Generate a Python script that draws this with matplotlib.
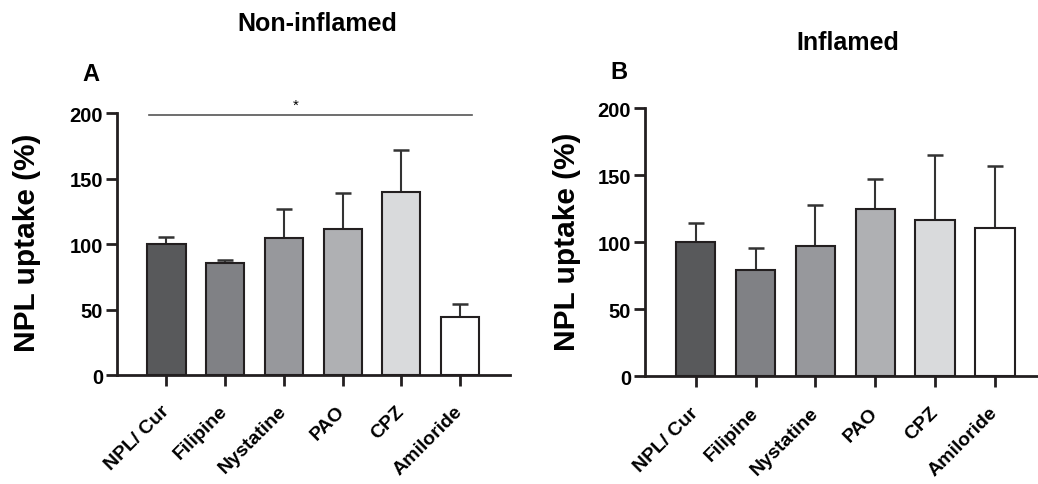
import matplotlib
matplotlib.use("Agg")
import matplotlib.pyplot as plt
import matplotlib.transforms as mtransforms
import numpy as np

categories = ["NPL/ Cur", "Filipine", "Nystatine", "PAO", "CPZ", "Amiloride"]
non_inflamed = [100, 85.5, 104.5, 111.5, 139.5, 44.5]
non_inflamed_err = [5.5, 2.5, 22, 27.5, 32.5, 9.5]
inflamed = [100, 79, 97, 125, 117, 111]
inflamed_err = [14.5, 16.5, 30.5, 22.5, 48, 46]
yticks = [0, 50, 100, 150, 200]
bar_colors = ["#58595b", "#808185", "#97989c", "#afb0b3", "#d9dadc", "#ffffff"]

plt.rcParams['font.family'] = ['Liberation Sans', 'DejaVu Sans']
plt.rcParams['font.weight'] = 'bold'

W, H = 1038, 485
fig = plt.figure(figsize=(W / 100, H / 100), dpi=100)

edge = "#231f20"

def make_panel(rect, vals, errs, xlim, width):
    ax = fig.add_axes(rect)
    x = np.arange(len(categories))
    ax.bar(x, vals, width=width, color=bar_colors, edgecolor=edge, linewidth=1.5, zorder=2)
    ax.errorbar(x, vals, yerr=[np.zeros(len(vals)), errs], fmt='none', ecolor="#333333",
                elinewidth=1.5, capsize=6, capthick=1.8, zorder=1)
    ax.set_xlim(*xlim)
    ax.set_ylim(0, 200)
    ax.set_yticks(yticks)
    ax.set_yticklabels([str(t) for t in yticks], fontsize=14.5, fontweight='bold')
    ax.set_xticks(x)
    ax.set_xticklabels(categories, rotation=45, ha='right', va='center',
                       rotation_mode='anchor', fontsize=14, fontweight='bold')
    off = mtransforms.ScaledTranslation(7 / 100, 0, fig.dpi_scale_trans)
    for lab in ax.get_xticklabels():
        lab.set_transform(lab.get_transform() + off)
    for s in ['top', 'right']:
        ax.spines[s].set_visible(False)
    for s in ['left', 'bottom']:
        ax.spines[s].set_linewidth(2)
        ax.spines[s].set_color(edge)
    ax.tick_params(axis='both', direction='out', length=8, width=2, color=edge)
    ax.tick_params(axis='y', pad=2)
    ax.tick_params(axis='x', pad=16)
    return ax

axA = make_panel([117 / W, 1 - 376 / H, (510 - 117) / W, (376 - 114.3) / H],
                 non_inflamed, non_inflamed_err, (-0.843, 5.85), 0.65)
axB = make_panel([645 / W, 1 - 377.3 / H, (1037 - 645) / W, (377.3 - 109.3) / H],
                 inflamed, inflamed_err, (-0.846, 5.70), 0.66)

# significance line
axA.plot([-0.29, 5.2], [199, 199], color="#555555", lw=1.2, clip_on=False)
axA.text(2.2, 201, "*", ha='center', va='bottom', fontsize=11, fontweight='normal')

fig.text(317 / W, 1 - 24 / H, "Non-inflamed", ha='center', va='center', fontsize=18, fontweight='bold')
fig.text(848 / W, 1 - 42.5 / H, "Inflamed", ha='center', va='center', fontsize=18, fontweight='bold')
fig.text(91 / W, 1 - 74.5 / H, "A", ha='center', va='center', fontsize=17, fontweight='bold')
fig.text(618.5 / W, 1 - 72.5 / H, "B", ha='center', va='center', fontsize=17, fontweight='bold')

fig.text(27 / W, 1 - 243 / H, "NPL uptake (%)", rotation=90, ha='center', va='center',
         fontsize=21.5, fontweight='bold')
fig.text(567 / W, 1 - 241.5 / H, "NPL uptake (%)", rotation=90, ha='center', va='center',
         fontsize=21.5, fontweight='bold')

fig.savefig("out.png", dpi=100)
